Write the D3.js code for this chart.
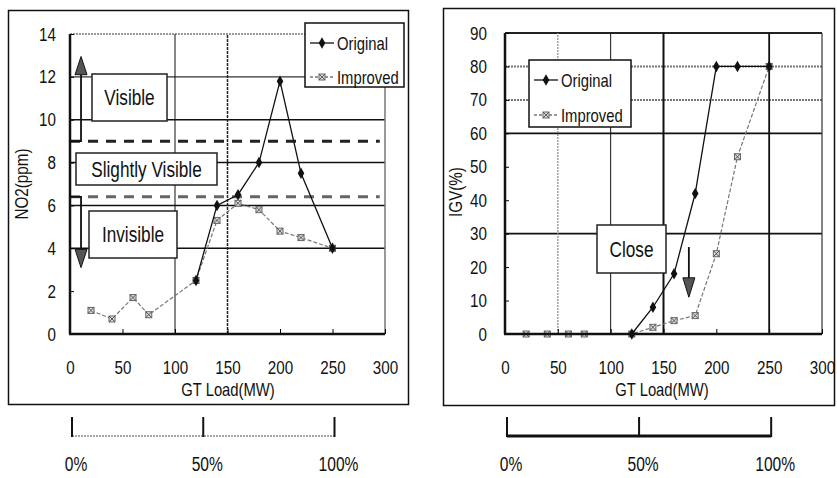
<!DOCTYPE html>
<meta charset="utf-8">
<head>
  <title>NO2 and IGV vs GT load</title>
</head>

<style>
body {
  margin: 0;
  background: #fff;
}
svg {
  font-family: "Liberation Sans", Arial, sans-serif;
}
</style>

<body>
  <svg width="837" height="478"></svg>

  <script src="https://cdnjs.cloudflare.com/ajax/libs/d3/7.8.5/d3.min.js"></script>

  <script>
// Ticks
var loadTicks = [0, 50, 100, 150, 200, 250, 300];
var no2Ticks = [0, 2, 4, 6, 8, 10, 12, 14];
var igvTicks = [0, 10, 20, 30, 40, 50, 60, 70, 80, 90];
var percentTicks = [0, 50, 100];

// NO2 (ppm) vs GT load (MW)
var no2OrigLoad = [120, 140, 160, 180, 200, 220, 250];
var no2Orig = [2.5, 6.0, 6.5, 8.0, 11.8, 7.5, 4.0];
var no2ImpLoad = [20, 40, 60, 75, 120, 140, 160, 180, 200, 220, 250];
var no2Imp = [1.1, 0.7, 1.7, 0.9, 2.5, 5.3, 6.1, 5.8, 4.8, 4.5, 4.0];

// IGV (%) vs GT load (MW)
var igvOrigLoad = [120, 140, 160, 180, 200, 220, 250];
var igvOrig = [0, 8, 18, 42, 80, 80, 80];
var igvImpLoad = [20, 40, 60, 75, 120, 140, 160, 180, 200, 220, 250];
var igvImp = [0, 0, 0, 0, 0, 2, 4, 5.5, 24, 53, 80];

// plume visibility limits (ppm)
var visibleLimit = 9;
var invisibleLimit = 6.4;
// load that counts as 100% on the bars under the charts
var fullLoad = 250;

// the scan uses a tall narrow face, squeeze Liberation Sans to get close
var SQ = 0.8;

var svg = d3.select('svg');

function narrow(sel) {
  sel.each(function() {
    var t = d3.select(this);
    var x = +t.attr('x') || 0;
    var tr = t.attr('transform') || '';
    t.attr('x', x / SQ).attr('transform', tr + ' scale(' + SQ + ',1)');
  });
  return sel;
}

function zip(xs, ys) {
  return xs.map(function(d, i) { return [d, ys[i]]; });
}

function hline(x, y, v, color, width, dash) {
  svg.append('line')
    .attr('x1', x.range()[0]).attr('x2', x.range()[1])
    .attr('y1', y(v)).attr('y2', y(v))
    .attr('stroke', color).attr('stroke-width', width)
    .attr('stroke-dasharray', dash || null);
}

function vline(x, y, v, color, width, dash) {
  svg.append('line')
    .attr('x1', x(v)).attr('x2', x(v))
    .attr('y1', y.range()[0]).attr('y2', y.range()[1])
    .attr('stroke', color).attr('stroke-width', width)
    .attr('stroke-dasharray', dash || null);
}

function diamond(cx, cy) {
  svg.append('path')
    .attr('d', d3.symbol(d3.symbolDiamond, 38)())
    .attr('transform', 'translate(' + cx + ',' + cy + ')')
    .attr('fill', '#111');
}

function boxX(cx, cy) {
  svg.append('rect')
    .attr('x', cx - 3).attr('y', cy - 3).attr('width', 6).attr('height', 6)
    .attr('fill', '#ddd').attr('stroke', '#666').attr('stroke-width', 1);
  svg.append('path')
    .attr('d', 'M' + (cx - 3) + ',' + (cy - 3) + 'L' + (cx + 3) + ',' + (cy + 3) +
               'M' + (cx + 3) + ',' + (cy - 3) + 'L' + (cx - 3) + ',' + (cy + 3))
    .attr('stroke', '#555').attr('stroke-width', 1);
}

function series(x, y, pts, orig) {
  var line = d3.line().x(function(d) { return x(d[0]); }).y(function(d) { return y(d[1]); });
  svg.append('path')
    .attr('d', line(pts))
    .attr('fill', 'none')
    .attr('stroke', orig ? '#111' : '#777')
    .attr('stroke-width', orig ? 1.3 : 1.2)
    .attr('stroke-dasharray', orig ? null : '4,2');
  pts.forEach(function(d) {
    if (orig) diamond(x(d[0]), y(d[1]));
    else boxX(x(d[0]), y(d[1]));
  });
}

function labelBox(x0, y0, w, h, text, size) {
  svg.append('rect')
    .attr('x', x0).attr('y', y0).attr('width', w).attr('height', h)
    .attr('fill', '#fff').attr('stroke', '#222').attr('stroke-width', 1.5);
  narrow(svg.append('text')
    .attr('x', x0 + w / 2).attr('y', y0 + h / 2)
    .attr('dy', '0.36em')
    .attr('text-anchor', 'middle')
    .attr('font-size', size)
    .attr('fill', '#111')
    .text(text));
}

function legend(x0, y0, w, h, rowY) {
  svg.append('rect')
    .attr('x', x0).attr('y', y0).attr('width', w).attr('height', h)
    .attr('fill', '#fff').attr('stroke', '#111').attr('stroke-width', 1.5);
  ['Original', 'Improved'].forEach(function(name, i) {
    var cy = rowY[i];
    svg.append('line')
      .attr('x1', x0 + 5).attr('x2', x0 + 29).attr('y1', cy).attr('y2', cy)
      .attr('stroke', i == 0 ? '#111' : '#777').attr('stroke-width', 1.3)
      .attr('stroke-dasharray', i == 0 ? null : '3,2');
    if (i == 0) diamond(x0 + 17, cy);
    else boxX(x0 + 17, cy);
    narrow(svg.append('text')
      .attr('x', x0 + 32).attr('y', cy).attr('dy', '0.36em')
      .attr('font-size', 18.5).attr('fill', '#111')
      .text(name));
  });
}

function axes(x, y, yTicks, yPad, titleX, titleY, yTitle, xTitleX) {
  var gx = svg.append('g')
    .attr('transform', 'translate(0,' + y.range()[0] + ')')
    .call(d3.axisBottom(x).tickValues(loadTicks).tickSize(0).tickPadding(26.5));
  gx.select('.domain').remove();
  narrow(gx.selectAll('text').attr('font-size', 19).attr('fill', '#111'));

  var gy = svg.append('g')
    .attr('transform', 'translate(' + x.range()[0] + ',0)')
    .call(d3.axisLeft(y).tickValues(yTicks).tickSize(0).tickPadding(yPad));
  gy.select('.domain').remove();
  narrow(gy.selectAll('text').attr('font-size', 19).attr('fill', '#111'));

  // small inward ticks
  var ti = svg.append('g')
    .attr('transform', 'translate(' + x.range()[0] + ',0)')
    .call(d3.axisRight(y).tickValues(yTicks).tickSize(4).tickFormat(''));
  ti.select('.domain').remove();
  var tb = svg.append('g')
    .attr('transform', 'translate(0,' + y.range()[0] + ')')
    .call(d3.axisTop(x).tickValues(loadTicks).tickSize(5).tickFormat(''));
  tb.select('.domain').remove();

  // axis lines
  svg.append('line')
    .attr('x1', x.range()[0]).attr('x2', x.range()[0])
    .attr('y1', y.range()[0]).attr('y2', y.range()[1])
    .attr('stroke', '#111').attr('stroke-width', 2.5);
  svg.append('line')
    .attr('x1', x.range()[0] - 1).attr('x2', x.range()[1])
    .attr('y1', y.range()[0]).attr('y2', y.range()[0])
    .attr('stroke', '#111').attr('stroke-width', 2.5);

  narrow(svg.append('text')
    .attr('transform', 'translate(' + titleX + ',' + titleY + ') rotate(-90)')
    .attr('text-anchor', 'middle')
    .attr('font-size', 19).attr('fill', '#111')
    .text(yTitle));
  narrow(svg.append('text')
    .attr('x', xTitleX).attr('y', 396)
    .attr('text-anchor', 'middle')
    .attr('font-size', 18.5).attr('fill', '#111')
    .text('GT Load(MW)'));
}

function percentBar(x, bold) {
  var p = d3.scaleLinear().domain([0, 100]).range([x(0) + 2, x(fullLoad) + 2]);
  svg.append('line')
    .attr('x1', p(0)).attr('x2', p(100)).attr('y1', 436).attr('y2', 436)
    .attr('stroke', bold ? '#111' : '#888')
    .attr('stroke-width', bold ? 3 : 1.5)
    .attr('stroke-dasharray', bold ? null : '2,1');
  percentTicks.forEach(function(v) {
    svg.append('line')
      .attr('x1', p(v)).attr('x2', p(v)).attr('y1', 417).attr('y2', 437)
      .attr('stroke', '#111').attr('stroke-width', 2);
    narrow(svg.append('text')
      .attr('x', p(v) + 4).attr('y', 471)
      .attr('text-anchor', 'middle')
      .attr('font-size', 19.5).attr('fill', '#111')
      .text(v + '%'));
  });
}

// Frames
svg.append('rect')
  .attr('x', 8.5).attr('y', 10.5).attr('width', 400).attr('height', 394)
  .attr('fill', 'none').attr('stroke', '#111').attr('stroke-width', 1.5);
svg.append('rect')
  .attr('x', 443.5).attr('y', 8.5).attr('width', 391).attr('height', 397)
  .attr('fill', 'none').attr('stroke', '#111').attr('stroke-width', 1.5);

//
// Left chart: NO2
//
var x1 = d3.scaleLinear().domain([0, 300]).range([70, 385]);
var y1 = d3.scaleLinear().domain([0, 14]).range([334, 34]);

hline(x1, y1, 14, '#777', 1.5, '2,1');
hline(x1, y1, 12, '#333', 1.3);
[10, 8, 6, 4].forEach(function(v) { hline(x1, y1, v, '#111', 1.6); });
vline(x1, y1, 100, '#111', 1);
vline(x1, y1, 150, '#222', 1.5, '3,1');
vline(x1, y1, 300, '#777', 1.5);

// visibility limit lines
svg.append('line')
  .attr('x1', x1(0)).attr('x2', x1(295)).attr('y1', y1(visibleLimit)).attr('y2', y1(visibleLimit))
  .attr('stroke', '#222').attr('stroke-width', 3).attr('stroke-dasharray', '10,8');
svg.append('line')
  .attr('x1', x1(0)).attr('x2', x1(295)).attr('y1', y1(invisibleLimit)).attr('y2', y1(invisibleLimit))
  .attr('stroke', '#666').attr('stroke-width', 3).attr('stroke-dasharray', '10,8');

// arrows
var ax = x1(10.5);
svg.append('path')
  .attr('d', 'M' + x1(0) + ',' + y1(visibleLimit) + 'H' + ax + 'V' + y1(12.1))
  .attr('fill', 'none').attr('stroke', '#111').attr('stroke-width', 1.8);
svg.append('path')
  .attr('d', 'M' + ax + ',' + y1(12.95) + 'L' + (ax + 6) + ',' + y1(12.1) + 'L' + (ax - 6) + ',' + y1(12.1) + 'Z')
  .attr('fill', '#555').attr('stroke', '#111').attr('stroke-width', 1);
svg.append('path')
  .attr('d', 'M' + x1(0) + ',' + y1(invisibleLimit) + 'H' + ax + 'V' + y1(3.95))
  .attr('fill', 'none').attr('stroke', '#111').attr('stroke-width', 1.8);
svg.append('path')
  .attr('d', 'M' + ax + ',' + y1(3.1) + 'L' + (ax + 6) + ',' + y1(3.95) + 'L' + (ax - 6) + ',' + y1(3.95) + 'Z')
  .attr('fill', '#555').attr('stroke', '#111').attr('stroke-width', 1);

series(x1, y1, zip(no2ImpLoad, no2Imp), false);
series(x1, y1, zip(no2OrigLoad, no2Orig), true);

labelBox(92, 74, 75, 47, 'Visible', 21.5);
labelBox(76, 153, 141, 32, 'Slightly Visible', 21.5);
labelBox(89, 211, 88, 47, 'Invisible', 21.5);

legend(305, 23, 99, 64, [43, 77]);
axes(x1, y1, no2Ticks, 14, 28, 184, 'NO2(ppm)', 228);
percentBar(x1, false);

//
// Right chart: IGV
//
var x2 = d3.scaleLinear().domain([0, 300]).range([505, 822]);
var y2 = d3.scaleLinear().domain([0, 90]).range([334, 33]);

hline(x2, y2, 90, '#222', 2);
hline(x2, y2, 80, '#777', 2, '2,1');
hline(x2, y2, 70, '#777', 2, '2,1');
hline(x2, y2, 60, '#111', 1.6);
hline(x2, y2, 30, '#111', 1.6);
vline(x2, y2, 50, '#888', 1.2, '2,1');
vline(x2, y2, 100, '#111', 1);
vline(x2, y2, 150, '#111', 2);
vline(x2, y2, 250, '#111', 1.8);
vline(x2, y2, 300, '#333', 1.2);

labelBox(597, 225, 69, 48, 'Close', 21.5);

// closing arrow
var cx = x2(174);
svg.append('line')
  .attr('x1', cx).attr('x2', cx).attr('y1', y2(26)).attr('y2', y2(16.5))
  .attr('stroke', '#111').attr('stroke-width', 1.8);
svg.append('path')
  .attr('d', 'M' + cx + ',' + y2(11) + 'L' + (cx + 6) + ',' + y2(16.8) + 'L' + (cx - 6) + ',' + y2(16.8) + 'Z')
  .attr('fill', '#555').attr('stroke', '#111').attr('stroke-width', 1);

series(x2, y2, zip(igvImpLoad, igvImp), false);
series(x2, y2, zip(igvOrigLoad, igvOrig), true);

legend(529, 60, 102, 67, [80, 115]);
axes(x2, y2, igvTicks, 18, 462, 192, 'IGV(%)', 662);
percentBar(x2, true);
  </script>
</body>
</html>
